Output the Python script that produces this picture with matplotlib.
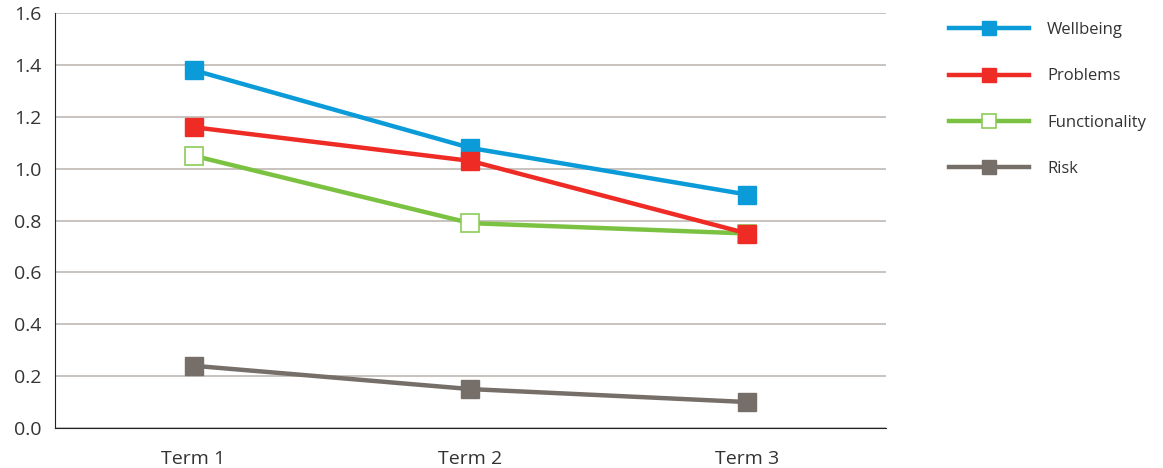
import matplotlib.pyplot as plt

plt.rcParams['font.family'] = ['Open Sans', 'DejaVu Sans']

terms = ["Term 1", "Term 2", "Term 3"]
wellbeing = [1.38, 1.08, 0.90]
problems = [1.16, 1.03, 0.75]
functionality = [1.05, 0.79, 0.75]
risk = [0.24, 0.15, 0.10]
y_ticks = [0.0, 0.2, 0.4, 0.6, 0.8, 1.0, 1.2, 1.4, 1.6]

fig = plt.figure(figsize=(11.63, 4.68), dpi=100)
ax = fig.add_axes([0.0473, 0.0855, 0.7145, 0.8865])

x = range(len(terms))
lw = 3.2
ms = 13.5
ax.plot(x, wellbeing, color="#0b9bd8", lw=lw, marker="s", ms=ms, label="Wellbeing", zorder=4)
ax.plot(x, problems, color="#ee2b24", lw=lw, marker="s", ms=ms, label="Problems", zorder=4)
ax.plot(x, functionality, color="#7cc242", lw=lw, marker="s", ms=ms, markerfacecolor="white",
        markeredgecolor="#8ccc5a", markeredgewidth=1.2, label="Functionality", zorder=3)
ax.plot(x, risk, color="#766f69", lw=lw, marker="s", ms=ms, label="Risk", zorder=4)

ax.set_xlim(-0.5, 2.5)
ax.set_ylim(0, 1.6)
ax.set_yticks(y_ticks)
ax.set_yticklabels([f"{v:.1f}" for v in y_ticks])
ax.set_xticks(list(x))
ax.set_xticklabels(terms)
ax.tick_params(length=0, labelsize=14, labelcolor="#333333")
ax.tick_params(axis="x", pad=16)
ax.tick_params(axis="y", pad=10)
ax.grid(axis="y", color="#bfb9b3", lw=1.2)
ax.set_axisbelow(True)
for s in ["top", "right"]:
    ax.spines[s].set_visible(False)
ax.spines["left"].set_color("#222222")
ax.spines["bottom"].set_color("#222222")

leg = fig.legend(loc="upper left", bbox_to_anchor=(0.8035, 0.985), frameon=False,
                 fontsize=12, handlelength=4.75, handletextpad=1.1, labelspacing=1.82,
                 markerscale=0.72)
for t in leg.get_texts():
    t.set_color("#333333")

plt.savefig("out.png", dpi=100)
